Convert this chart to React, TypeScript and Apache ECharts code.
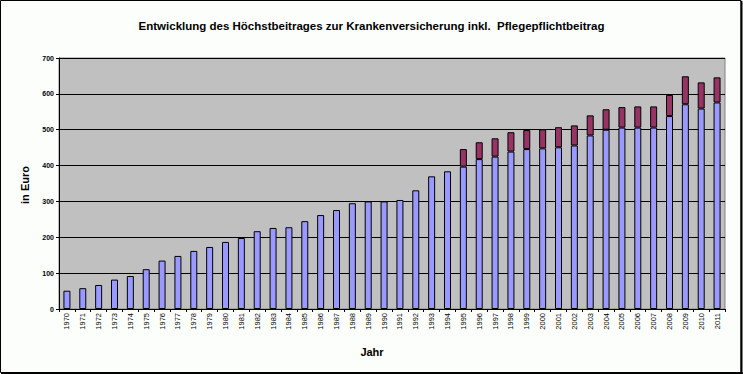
import React, { useEffect, useRef } from "react";
import * as echarts from "echarts";

const years = [
  "1970", "1971", "1972", "1973", "1974", "1975", "1976", "1977", "1978", "1979",
  "1980", "1981", "1982", "1983", "1984", "1985", "1986", "1987", "1988", "1989",
  "1990", "1991", "1992", "1993", "1994", "1995", "1996", "1997", "1998", "1999",
  "2000", "2001", "2002", "2003", "2004", "2005", "2006", "2007", "2008", "2009",
  "2010", "2011",
];

const krankenversicherung = [
  51, 58, 67, 82, 92, 111, 135, 148, 162, 173,
  187, 198, 217, 226, 228, 245, 262, 276, 295, 300,
  300, 304, 331, 370, 384, 397, 418, 425, 439, 446,
  448, 451, 456, 484, 500, 506, 506, 506, 538, 571,
  559, 576,
];

const pflege: (number | null)[] = [
  null, null, null, null, null, null, null, null, null, null,
  null, null, null, null, null, null, null, null, null, null,
  null, null, null, null, null, 49, 47, 51, 54, 53,
  53, 56, 56, 56, 57, 57, 59, 59, 59, 78,
  73, 70,
];

const yTicks = { min: 0, max: 700, interval: 100 };

const title = "Entwicklung des Höchstbeitrages zur Krankenversicherung inkl.  Pflegepflichtbeitrag";

export default function App() {
  const ref = useRef<HTMLDivElement>(null);

  useEffect(() => {
    if (!ref.current) return;
    const chart = echarts.init(ref.current, null, { renderer: "svg" });
    const font = "Liberation Sans, Arial, sans-serif";
    chart.setOption({
      animation: false,
      backgroundColor: "#FCFEFC",
      textStyle: { fontFamily: font },
      title: {
        text: title,
        left: "center",
        top: 15,
        textStyle: { fontSize: 11.5, fontWeight: "bold", color: "#000", fontFamily: font },
      },
      graphic: [
        {
          type: "rect",
          shape: { x: 0.5, y: 0.5, width: 740.5, height: 372 },
          style: { fill: "none", stroke: "#000", lineWidth: 1 },
          silent: true,
        },
        {
          type: "line",
          shape: { x1: 741.5, y1: 1, x2: 741.5, y2: 374 },
          style: { stroke: "#000", lineWidth: 2 },
          silent: true,
        },
        {
          type: "line",
          shape: { x1: 1, y1: 373.5, x2: 743, y2: 373.5 },
          style: { stroke: "#000", lineWidth: 2 },
          silent: true,
        },
        {
          type: "text",
          x: 372,
          y: 352,
          style: {
            text: "Jahr",
            font: "bold 11px Liberation Sans, Arial, sans-serif",
            fill: "#000",
            align: "center",
            verticalAlign: "middle",
          },
        },
        {
          type: "text",
          x: 25,
          y: 185,
          rotation: Math.PI / 2,
          style: {
            text: "in Euro",
            font: "bold 11px Liberation Sans, Arial, sans-serif",
            fill: "#000",
            align: "center",
            verticalAlign: "middle",
          },
        },
      ],
      grid: {
        left: 59,
        right: 18,
        top: 58,
        bottom: 65,
        show: true,
        backgroundColor: "#C0C0C0",
        borderColor: "#808080",
        borderWidth: 1,
      },
      xAxis: {
        type: "category",
        data: years,
        boundaryGap: true,
        axisLine: { lineStyle: { color: "#000", width: 1 } },
        axisTick: { show: true, inside: false, length: 3, lineStyle: { color: "#000" } },
        axisLabel: {
          rotate: 90,
          fontSize: 7.5,
          color: "#000",
          margin: 4,
          interval: 0,
          fontFamily: font,
        },
        splitLine: { show: false },
      },
      yAxis: {
        type: "value",
        min: yTicks.min,
        max: yTicks.max,
        interval: yTicks.interval,
        axisLine: { show: true, lineStyle: { color: "#000", width: 1 } },
        axisTick: { show: true, length: 3, lineStyle: { color: "#000" } },
        axisLabel: { fontSize: 7, color: "#000", margin: 5, fontWeight: "bold", fontFamily: font },
        splitLine: { show: true, lineStyle: { color: "#000", width: 1 } },
      },
      series: [
        {
          name: "Krankenversicherung",
          type: "bar",
          stack: "total",
          data: krankenversicherung,
          barWidth: 7,
          itemStyle: { color: "#9999FF", borderColor: "#000", borderWidth: 1 },
        },
        {
          name: "Pflegepflichtbeitrag",
          type: "bar",
          stack: "total",
          data: pflege,
          barWidth: 7,
          itemStyle: { color: "#993366", borderColor: "#000", borderWidth: 1 },
        },
      ],
    });
    return () => chart.dispose();
  }, []);

  return (
    <div
      ref={ref}
      style={{ position: "fixed", left: 0, top: 0, width: 743, height: 374 }}
    />
  );
}
